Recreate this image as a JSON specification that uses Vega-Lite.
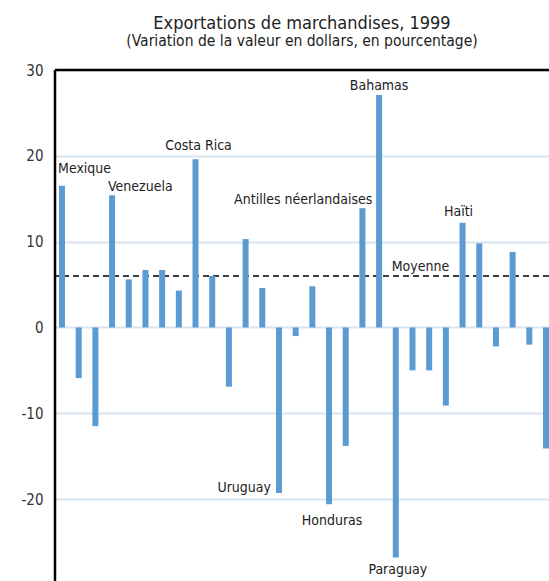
{
  "$schema": "https://vega.github.io/schema/vega-lite/v6.json",
  "autosize": {"type": "none"},
  "padding": {"left": 55, "top": 70, "right": 0, "bottom": 0},
  "width": 494,
  "height": 511,
  "background": "white",
  "config": {
    "font": "DejaVu Sans Condensed, Liberation Sans, sans-serif",
    "view": {"stroke": null},
    "text": {"fontSize": 14, "color": "#222222", "baseline": "alphabetic"}
  },
  "title": {
    "text": "Exportations de marchandises, 1999",
    "subtitle": "(Variation de la valeur en dollars, en pourcentage)",
    "fontSize": 18,
    "fontWeight": "normal",
    "subtitleFontSize": 15.5,
    "color": "#222222",
    "subtitleColor": "#222222",
    "anchor": "middle",
    "offset": 14,
    "subtitlePadding": 1
  },
  "data": {
    "values": [
      {"rang": 1, "valeur": 16.5, "pays": "Mexique"},
      {"rang": 2, "valeur": -5.9, "pays": ""},
      {"rang": 3, "valeur": -11.5, "pays": ""},
      {"rang": 4, "valeur": 15.4, "pays": "Venezuela"},
      {"rang": 5, "valeur": 5.6, "pays": ""},
      {"rang": 6, "valeur": 6.7, "pays": ""},
      {"rang": 7, "valeur": 6.7, "pays": ""},
      {"rang": 8, "valeur": 4.3, "pays": ""},
      {"rang": 9, "valeur": 19.6, "pays": "Costa Rica"},
      {"rang": 10, "valeur": 6.0, "pays": ""},
      {"rang": 11, "valeur": -6.9, "pays": ""},
      {"rang": 12, "valeur": 10.3, "pays": ""},
      {"rang": 13, "valeur": 4.6, "pays": ""},
      {"rang": 14, "valeur": -19.3, "pays": "Uruguay"},
      {"rang": 15, "valeur": -1.0, "pays": ""},
      {"rang": 16, "valeur": 4.8, "pays": ""},
      {"rang": 17, "valeur": -20.6, "pays": "Honduras"},
      {"rang": 18, "valeur": -13.8, "pays": ""},
      {"rang": 19, "valeur": 13.9, "pays": "Antilles néerlandaises"},
      {"rang": 20, "valeur": 27.1, "pays": "Bahamas"},
      {"rang": 21, "valeur": -26.8, "pays": "Paraguay"},
      {"rang": 22, "valeur": -5.0, "pays": ""},
      {"rang": 23, "valeur": -5.0, "pays": ""},
      {"rang": 24, "valeur": -9.1, "pays": ""},
      {"rang": 25, "valeur": 12.2, "pays": "Haïti"},
      {"rang": 26, "valeur": 9.8, "pays": ""},
      {"rang": 27, "valeur": -2.2, "pays": ""},
      {"rang": 28, "valeur": 8.8, "pays": ""},
      {"rang": 29, "valeur": -2.0, "pays": ""},
      {"rang": 30, "valeur": -14.1, "pays": ""}
    ]
  },
  "encoding": {
    "x": {"field": "rang", "type": "quantitative", "axis": null, "scale": {"domain": [0.58, 30.18], "nice": false, "zero": false, "padding": 0}},
    "y": {
      "field": "valeur",
      "type": "quantitative",
      "scale": {"domain": [-29.54, 30], "nice": false, "padding": 0},
      "axis": {
        "title": null,
        "values": [-30, -20, -10, 0, 10, 20, 30],
        "labelExpr": "datum.value < 0 ? '-' + abs(datum.value) : '' + datum.value",
        "domain": false,
        "ticks": false,
        "labelPadding": 12,
        "labelFontSize": 15,
        "labelColor": "#333333",
        "gridColor": "#d9e4f1",
        "gridWidth": 2,
        "gridOpacity": 1
      }
    }
  },
  "layer": [
    {
      "data": {"values": [{"valeur": 6.0, "libelle": "Moyenne"}]},
      "mark": {"type": "rule", "color": "#000000", "strokeWidth": 1.3, "strokeDash": [6, 4]},
      "encoding": {"x": null}
    },
    {
      "mark": {"type": "bar", "size": 6, "color": "#5b9bd2"}
    },
    {
      "data": {"values": [{"valeur": 30}]},
      "mark": {"type": "rule", "color": "#000000", "strokeWidth": 2.5},
      "encoding": {"x": null}
    },
    {
      "data": {"values": [{"rang": 0.58}]},
      "mark": {"type": "rule", "color": "#000000", "strokeWidth": 2.5},
      "encoding": {"y": null}
    },
    {
      "data": {"values": [{"rang": 22, "valeur": 6.0, "libelle": "Moyenne"}]},
      "mark": {"type": "text", "align": "center", "dx": 8, "dy": -5, "color": "#222222"},
      "encoding": {"text": {"field": "libelle", "type": "nominal"}}
    },
    {
      "transform": [{"filter": "datum.pays == 'Mexique'"}],
      "mark": {"type": "text", "align": "left", "dx": -4, "dy": -13},
      "encoding": {"text": {"field": "pays"}}
    },
    {
      "transform": [{"filter": "datum.pays == 'Venezuela'"}],
      "mark": {"type": "text", "align": "left", "dx": -4, "dy": -4},
      "encoding": {"text": {"field": "pays"}}
    },
    {
      "transform": [{"filter": "datum.pays == 'Costa Rica'"}],
      "mark": {"type": "text", "align": "center", "dx": 3, "dy": -9},
      "encoding": {"text": {"field": "pays"}}
    },
    {
      "transform": [{"filter": "datum.pays == 'Uruguay'"}],
      "mark": {"type": "text", "align": "right", "dx": -8, "dy": -1},
      "encoding": {"text": {"field": "pays"}}
    },
    {
      "transform": [{"filter": "datum.pays == 'Honduras'"}],
      "mark": {"type": "text", "align": "center", "dx": 3, "dy": 21},
      "encoding": {"text": {"field": "pays"}}
    },
    {
      "transform": [{"filter": "datum.pays == 'Antilles néerlandaises'"}],
      "mark": {"type": "text", "align": "right", "dx": 10, "dy": -4},
      "encoding": {"text": {"field": "pays"}}
    },
    {
      "transform": [{"filter": "datum.pays == 'Bahamas'"}],
      "mark": {"type": "text", "align": "center", "dx": 0, "dy": -5},
      "encoding": {"text": {"field": "pays"}}
    },
    {
      "transform": [{"filter": "datum.pays == 'Paraguay'"}],
      "mark": {"type": "text", "align": "center", "dx": 2, "dy": 17},
      "encoding": {"text": {"field": "pays"}}
    },
    {
      "transform": [{"filter": "datum.pays == 'Haïti'"}],
      "mark": {"type": "text", "align": "center", "dx": -4, "dy": -7},
      "encoding": {"text": {"field": "pays"}}
    }
  ]
}
